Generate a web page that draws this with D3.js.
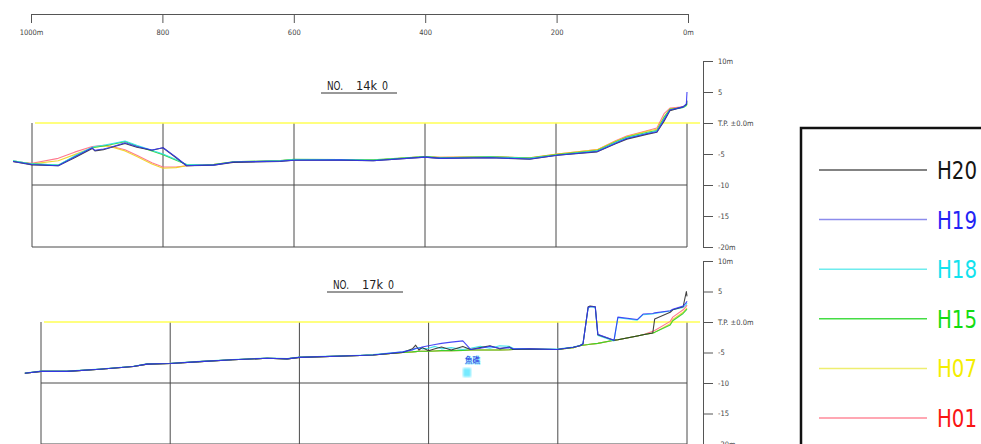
<!DOCTYPE html>
<html><head><meta charset="utf-8">
<script src="https://cdn.jsdelivr.net/npm/d3@7"></script>
<style>html,body{margin:0;padding:0;background:#fff;overflow:hidden}</style>
</head><body><svg id="c" width="981" height="444" style="display:block;background:#fff"></svg>
<script>
// ---------- DATA ----------
const seriesNames = ["H20", "H19", "H18", "H15", "H07", "H01"];
const distTicks = [1000, 800, 600, 400, 200, 0];
const distTickLabels = ["1000m", "800", "600", "400", "200", "0m"];
const elevTicks = [10, 5, 0, -5, -10, -15, -20];
const elevTickLabels = ["10m", "5", "T.P. \u00b10.0m", "-5", "-10", "-15", "-20m"];
const panelTitles = [["NO.", "14k", "0"], ["NO.", "17k", "0"]];
const reefLabel = "魚礁";

// Section NO.14k0 : distance (m)
const p1Dist = [1029,1000,960,935,908,904,891,881,858,840,817,800,780,764,740,723,693,621,600,530,479,400,377,301,240,198,137,110,92,60,46,35,26,6,1,0];
const p1H20 = [-6.2,-6.75,-6.9,-5.6,-4.1,-4.5,-4.3,-4.0,-3.3,-3.9,-4.4,-4.0,-5.6,-6.9,-6.85,-6.8,-6.35,-6.2,-6.0,-6.0,-6.1,-5.5,-5.7,-5.6,-5.85,-5.2,-4.65,-3.4,-2.6,-1.8,-1.5,0.3,2.0,2.6,3.0,3.6];
const p1H19 = [-6.2,-6.7,-6.9,-5.5,-4.0,-4.4,-4.2,-3.95,-3.2,-3.8,-4.35,-4.0,-5.5,-6.9,-6.8,-6.8,-6.3,-6.15,-6.0,-5.95,-6.1,-5.5,-5.7,-5.6,-5.8,-5.2,-4.6,-3.3,-2.5,-1.7,-1.4,0.5,2.1,2.6,3.1,5.0];
const p1H18 = [-6.1,-6.6,-6.8,-5.3,-3.9,-3.8,-3.6,-3.4,-2.9,-3.6,-4.4,-5.0,-5.9,-6.7,-6.8,-6.75,-6.3,-6.1,-5.9,-5.9,-6.0,-5.45,-5.6,-5.5,-5.7,-5.15,-4.5,-3.2,-2.4,-1.6,-1.3,0.7,2.1,2.5,2.9,3.4];
const p1H15 = [-6.1,-6.6,-6.8,-5.4,-4.0,-3.9,-3.7,-3.5,-3.0,-3.7,-4.5,-5.1,-6.0,-6.7,-6.8,-6.7,-6.25,-6.05,-5.85,-5.9,-5.95,-5.4,-5.6,-5.45,-5.65,-5.1,-4.45,-3.1,-2.3,-1.5,-1.2,0.9,2.2,2.5,2.8,3.2];
const p1H07 = [-6.2,-6.6,-6.1,-5.1,-4.0,-3.9,-3.7,-3.8,-4.5,-5.4,-6.6,-7.3,-7.2,-6.9,-6.8,-6.7,-6.3,-6.1,-5.9,-5.9,-6.0,-5.4,-5.55,-5.45,-5.6,-5.0,-4.3,-3.0,-2.2,-1.3,-1.0,1.0,2.3,2.5,2.8,3.0];
const p1H01 = [-6.2,-6.5,-5.7,-4.7,-3.8,-3.75,-3.6,-3.7,-4.3,-5.2,-6.4,-7.1,-7.1,-6.9,-6.8,-6.7,-6.3,-6.1,-5.9,-5.9,-6.0,-5.4,-5.55,-5.45,-5.6,-5.0,-4.3,-2.9,-2.1,-1.2,-0.8,1.5,2.4,2.6,2.9,3.1];

// Section NO.17k0
const p2Dist = [1025,1000,960,909,857,836,800,754,703,650,619,600,506,486,440,425,420,415,410,400,390,380,365,347,335,320,305,290,275,269,243,201,176,166,161,153,150,142,138,113,107,77,68,53,50,26,22,6,1,0];
const p2H20 = [-8.4,-8.1,-8.1,-7.75,-7.3,-6.9,-6.8,-6.5,-6.2,-5.95,-6.05,-5.8,-5.5,-5.4,-5.0,-4.4,-3.8,-4.6,-4.2,-4.7,-4.4,-4.1,-4.6,-4.0,-4.5,-4.2,-3.9,-4.4,-4.1,-4.5,-4.4,-4.5,-4.15,-3.9,-3.6,2.5,2.6,2.5,-2.1,-3.0,-2.9,-2.3,-2.1,-1.8,0.5,1.6,2.0,2.5,5.0,4.2];
const p2H19 = [-8.4,-8.1,-8.1,-7.75,-7.3,-6.9,-6.8,-6.5,-6.2,-5.95,-6.05,-5.8,-5.5,-5.4,-4.9,-4.6,-4.3,-4.3,-4.1,-3.9,-3.7,-3.5,-3.3,-3.1,-4.5,-4.3,-4.0,-4.3,-4.2,-4.4,-4.4,-4.5,-4.15,-3.9,-3.6,2.4,2.5,2.5,-2.0,-3.0,0.8,0.4,1.3,1.4,1.5,1.85,2.1,2.6,3.2,3.4];
const p2H18 = [-8.35,-8.05,-8.05,-7.7,-7.25,-6.85,-6.75,-6.45,-6.15,-5.9,-6.0,-5.75,-5.45,-5.35,-4.9,-4.5,-4.4,-4.2,-4.4,-4.3,-4.0,-4.4,-4.2,-4.5,-4.3,-4.0,-4.3,-3.9,-4.0,-4.3,-4.4,-4.45,-4.1,-3.85,-3.5,2.3,2.5,2.4,-2.2,-3.1,0.7,0.3,1.2,1.3,1.4,1.8,2.0,2.4,2.9,3.1];
const p2H15 = [-8.4,-8.1,-8.1,-7.75,-7.3,-6.9,-6.8,-6.5,-6.2,-5.95,-6.05,-5.8,-5.5,-5.4,-5.0,-4.9,-4.85,-4.8,-4.8,-4.8,-4.75,-4.7,-4.7,-4.65,-4.6,-4.6,-4.6,-4.6,-4.55,-4.5,-4.5,-4.5,-4.2,-3.9,-3.8,-3.7,-3.65,-3.55,-3.5,-3.0,-2.9,-2.3,-2.1,-1.8,-1.7,-0.5,0.2,1.4,2.0,2.1];
const p2H07 = [-8.4,-8.1,-8.1,-7.75,-7.3,-6.9,-6.8,-6.5,-6.2,-5.95,-6.05,-5.8,-5.5,-5.4,-5.0,-4.9,-4.85,-4.8,-4.8,-4.8,-4.75,-4.7,-4.7,-4.65,-4.6,-4.6,-4.6,-4.6,-4.55,-4.5,-4.5,-4.5,-4.2,-3.9,-3.8,-3.7,-3.65,-3.55,-3.5,-3.0,-2.9,-2.3,-2.1,-1.8,-1.7,-0.3,0.4,1.6,2.2,2.3];
const p2H01 = [-8.4,-8.1,-8.1,-7.75,-7.3,-6.9,-6.8,-6.5,-6.2,-5.95,-6.05,-5.8,-5.5,-5.4,-5.0,-4.9,-4.85,-4.8,-4.8,-4.8,-4.75,-4.7,-4.7,-4.65,-4.6,-4.6,-4.6,-4.6,-4.55,-4.5,-4.5,-4.5,-4.2,-3.9,-3.8,-3.7,-3.65,-3.55,-3.5,-3.0,-2.9,-2.3,-2.1,-1.5,-1.4,0.1,0.8,2.0,2.6,2.8];

// ---------- STYLE ----------
const lineColors = {H20:"#2e2e2e", H19:"#3535f5", H18:"#30e0ea", H15:"#2ad02a", H07:"#f0d21e", H01:"#ff6a82"};
const legendLineColors = {H20:"#5a5a5a", H19:"#8c8cec", H18:"#6eecee", H15:"#44dd44", H07:"#eeee70", H01:"#ff8a9a"};
const legendTextColors = {H20:"#141414", H19:"#2323f5", H18:"#12e2ee", H15:"#12dc12", H07:"#f4ee00", H01:"#fa1414"};
const drawOrder = ["H01", "H07", "H15", "H18", "H20", "H19"];
const narrow = "'Liberation Sans Narrow','DejaVu Sans Condensed','Arial Narrow','Liberation Sans',sans-serif";

const svg = d3.select("#c");
svg.append("rect").attr("width", 981).attr("height", 444).attr("fill", "#fff");

const defs = svg.append("defs");
defs.append("filter").attr("id", "blur").append("feGaussianBlur").attr("stdDeviation", 1.1);

// ---------- TOP DISTANCE AXIS ----------
const xTop = d3.scaleLinear().domain([1000, 0]).range([31, 688]);
const topAxis = svg.append("g").attr("transform", "translate(0,14)")
  .call(d3.axisBottom(xTop).tickValues(distTicks).tickSize(9).tickSizeOuter(0).tickPadding(7)
    .tickFormat(d => distTickLabels[distTicks.indexOf(d)]));
topAxis.select(".domain").attr("stroke", "#555");
topAxis.selectAll(".tick line").attr("stroke", "#555");
topAxis.selectAll("text").attr("fill", "#444").attr("font-size", 7.5).attr("font-family", narrow);

// ---------- PANELS ----------
const panels = [
  {dist: p1Dist, vals: {H20:p1H20, H19:p1H19, H18:p1H18, H15:p1H15, H07:p1H07, H01:p1H01},
   xr: [32, 687], yr: [61, 247], title: panelTitles[0], tx: 327, ty: 90},
  {dist: p2Dist, vals: {H20:p2H20, H19:p2H19, H18:p2H18, H15:p2H15, H07:p2H07, H01:p2H01},
   xr: [41, 687], yr: [261, 444], title: panelTitles[1], tx: 333, ty: 289}
];

panels.forEach((p, pi) => {
  const x = d3.scaleLinear().domain([1000, 0]).range(p.xr);
  const y = d3.scaleLinear().domain([10, -20]).range(p.yr);
  const g = svg.append("g");

  g.selectAll(".vg").data(distTicks).join("line")
    .attr("x1", d => x(d)).attr("x2", d => x(d))
    .attr("y1", y(0)).attr("y2", y(-20))
    .attr("stroke", "#4a4a4a").attr("stroke-width", 1);
  g.selectAll(".hg").data([-10, -20]).join("line")
    .attr("x1", x(1000)).attr("x2", x(0))
    .attr("y1", d => y(d)).attr("y2", d => y(d))
    .attr("stroke", "#4a4a4a").attr("stroke-width", 1);

  g.append("line").attr("x1", x(1000) + 3).attr("x2", 700)
    .attr("y1", y(0)).attr("y2", y(0))
    .attr("stroke", "#ffff55").attr("stroke-width", 1.6);

  const ax = g.append("g").attr("transform", "translate(703,0)")
    .call(d3.axisRight(y).tickValues(elevTicks).tickSize(10).tickSizeOuter(0).tickPadding(5)
      .tickFormat(d => elevTickLabels[elevTicks.indexOf(d)]));
  ax.select(".domain").attr("stroke", "#555");
  ax.selectAll(".tick line").attr("stroke", "#555");
  ax.selectAll("text").attr("fill", "#444").attr("font-size", 7.5).attr("font-family", narrow);

  const offs = [0, 29, 55];
  const lens = [16, 21, 6];
  p.title.forEach((t, i) => {
    g.append("text").attr("x", p.tx + offs[i]).attr("y", p.ty).text(t)
      .attr("font-size", 12.5).attr("font-family", narrow).attr("fill", "#222")
      .attr("textLength", lens[i]).attr("lengthAdjust", "spacingAndGlyphs");
  });
  g.append("line").attr("x1", p.tx - 6).attr("x2", p.tx + 70)
    .attr("y1", p.ty + 3).attr("y2", p.ty + 3).attr("stroke", "#333").attr("stroke-width", 1);

  drawOrder.forEach(name => {
    const vals = p.vals[name];
    const pts = p.dist.map((d, i) => [d, vals[i]]);
    g.append("path").datum(pts)
      .attr("d", d3.line().defined(d => d[1] != null).x(d => x(d[0])).y(d => y(d[1])))
      .attr("fill", "none").attr("stroke", lineColors[name])
      .attr("stroke-width", 1.1).attr("stroke-opacity", 0.9).attr("stroke-linejoin", "round");
  });

  if (pi === 1) {
    g.append("rect").attr("x", 463).attr("y", 368).attr("width", 8).attr("height", 9)
      .attr("fill", "#55e6ff").attr("opacity", 0.8).attr("filter", "url(#blur)");
    g.append("text").attr("x", 465).attr("y", 363).text(reefLabel)
      .attr("font-size", 7.5).attr("font-family", "'Noto Sans CJK JP',sans-serif")
      .attr("fill", "#2a2ae0").attr("stroke", "#9ff2ff").attr("stroke-width", 1.2)
      .attr("paint-order", "stroke");
  }
});

// ---------- LEGEND ----------
const lg = svg.append("g");
lg.append("rect").attr("x", 801).attr("y", 128).attr("width", 300).attr("height", 400)
  .attr("fill", "#fff").attr("stroke", "#111").attr("stroke-width", 2.5);
const ly = d3.scalePoint().domain(seriesNames).range([170, 418]);
seriesNames.forEach(name => {
  lg.append("line").attr("x1", 819).attr("x2", 927).attr("y1", ly(name)).attr("y2", ly(name))
    .attr("stroke", legendLineColors[name]).attr("stroke-width", 1.5);
  lg.append("text").attr("x", 937).attr("y", ly(name) + 9).text(name)
    .attr("font-size", 24).attr("font-family", narrow).attr("fill", legendTextColors[name])
    .attr("textLength", 40).attr("lengthAdjust", "spacingAndGlyphs");
});
</script>
</body></html>
